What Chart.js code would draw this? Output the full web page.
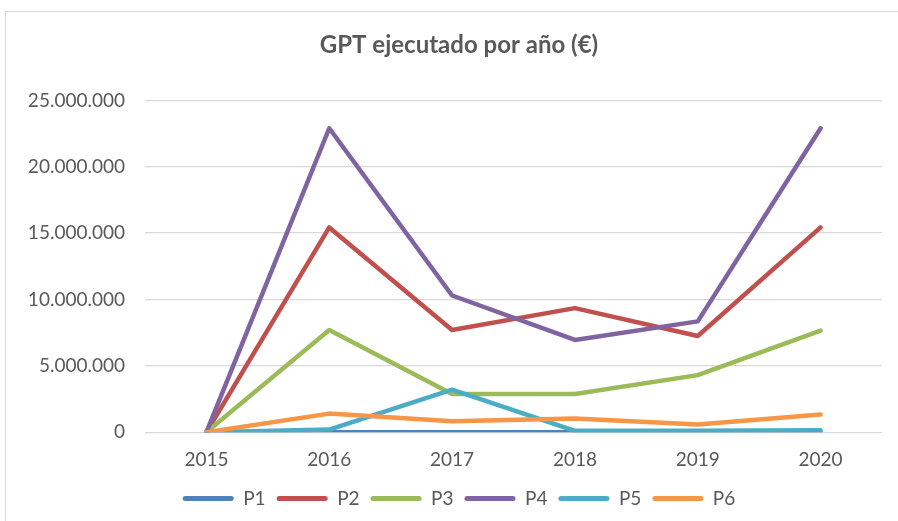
<!DOCTYPE html>
<html>
<head>
<meta charset="utf-8">
<script src="https://cdn.jsdelivr.net/npm/chart.js@4"></script>
<style>
  html, body { margin: 0; padding: 0; background: #ffffff; overflow: hidden; }
  #wrap { position: relative; width: 898px; height: 521px; }
  #frame { position: absolute; left: 5px; top: 11px; width: 1000px; height: 1000px; border: 1.5px solid #d9d9d9; box-sizing: border-box; }
  #c { position: absolute; left: 0; top: 0; }
</style>
</head>
<body>
<div id="wrap">
  <div id="frame"></div>
  <canvas id="c" width="898" height="521"></canvas>
</div>
<script>
const titleText = 'GPT ejecutado por año (€)';
const years = ['2015', '2016', '2017', '2018', '2019', '2020'];
const seriesNames = ['P1', 'P2', 'P3', 'P4', 'P5', 'P6'];
const p1 = [0, 0, 0, 0, 0, 0];
const p2 = [0, 15430000, 7700000, 9350000, 7250000, 15430000];
const p3 = [0, 7700000, 2880000, 2880000, 4300000, 7650000];
const p4 = [0, 22900000, 10300000, 6950000, 8350000, 22900000];
const p5 = [0, 200000, 3200000, 100000, 100000, 150000];
const p6 = [0, 1400000, 830000, 1030000, 580000, 1340000];
const yTicks = [0, 5000000, 10000000, 15000000, 20000000, 25000000];
const colors = ['#4F81BD', '#C0504D', '#9BBB59', '#8064A2', '#4BACC6', '#F79646'];

const seriesValues = [p1, p2, p3, p4, p5, p6];
const textColor = '#595959';
const fontFamily = 'Lato, "Open Sans", sans-serif';

function fmt(v) {
  return String(Math.round(v)).replace(/\B(?=(\d{3})+(?!\d))/g, '.');
}

const datasets = seriesNames.map((name, i) => ({
  label: name,
  data: seriesValues[i],
  borderColor: colors[i],
  backgroundColor: colors[i],
  borderWidth: 4.5,
  pointRadius: 0,
  pointHoverRadius: 0,
  tension: 0,
  fill: false,
  borderCapStyle: 'round',
  borderJoinStyle: 'round',
  order: seriesNames.length - i
}));

const widenYLabelArea = {
  id: 'widenYLabelArea',
  afterLayout(chart) {
    if (chart.scales.y) { chart.scales.y.left = 0; }
  }
};

new Chart(document.getElementById('c'), {
  type: 'line',
  data: { labels: years, datasets: datasets },
  plugins: [widenYLabelArea],
  options: {
    responsive: false,
    animation: false,
    devicePixelRatio: 1,
    layout: { padding: { left: 36, right: 16, top: 0, bottom: 3 } },
    plugins: {
      tooltip: { enabled: false },
      title: {
        display: true,
        text: titleText,
        color: textColor,
        font: { family: fontFamily, size: 24, weight: 'bold' },
        padding: { top: 31, bottom: 40.6 }
      },
      legend: {
        position: 'bottom',
        labels: {
          color: textColor,
          font: { family: fontFamily, size: 19 },
          boxWidth: 51,
          boxHeight: 5,
          useBorderRadius: true,
          borderRadius: 2.5,
          padding: 11,
          generateLabels: (chart) => chart.data.datasets.map((ds, i) => ({
            text: ds.label,
            fillStyle: ds.borderColor,
            strokeStyle: ds.borderColor,
            lineWidth: 0,
            fontColor: textColor,
            hidden: false,
            datasetIndex: i,
            borderRadius: 2.5
          }))
        }
      }
    },
    scales: {
      x: {
        type: 'category',
        offset: true,
        grid: { display: false, drawTicks: false },
        border: { display: false },
        afterFit: (axis) => { axis.height -= 9; },
        ticks: {
          color: textColor,
          font: { family: fontFamily, size: 19 },
          padding: 16,
          maxRotation: 0
        }
      },
      y: {
        min: 0,
        max: 25000000,
        afterBuildTicks: (axis) => { axis.ticks = yTicks.map(v => ({ value: v })); },
        afterFit: (axis) => { axis.width = 109; },
        grid: { color: '#d9d9d9', lineWidth: 1.3, drawTicks: false },
        border: { display: false },
        ticks: {
          color: textColor,
          font: { family: fontFamily, size: 19 },
          padding: 20,
          callback: (v) => fmt(v)
        }
      }
    }
  }
});
</script>
</body>
</html>
